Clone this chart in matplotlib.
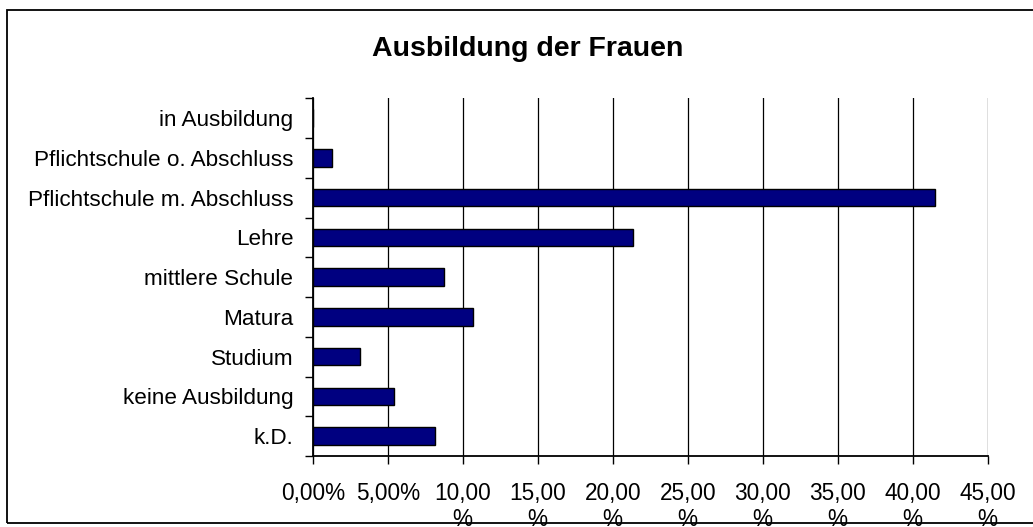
import matplotlib.pyplot as plt
from matplotlib.patches import Rectangle

# data (percent), top to bottom as in the chart
categories = [
    "in Ausbildung",
    "Pflichtschule o. Abschluss",
    "Pflichtschule m. Abschluss",
    "Lehre",
    "mittlere Schule",
    "Matura",
    "Studium",
    "keine Ausbildung",
    "k.D.",
]
values = [0.0, 1.31, 41.47, 21.33, 8.75, 10.69, 3.17, 5.42, 8.15]
tick_values = [0, 5, 10, 15, 20, 25, 30, 35, 40, 45]
tick_labels = ["0,00%", "5,00%", "10,00\n%", "15,00\n%", "20,00\n%", "25,00\n%",
               "30,00\n%", "35,00\n%", "40,00\n%", "45,00\n%"]

plt.rcParams["font.family"] = ["Liberation Sans", "DejaVu Sans"]

W, H = 1033, 527
fig = plt.figure(figsize=(W / 100, H / 100), dpi=100)
ax = fig.add_axes([312.7 / W, 1 - 456 / H, (987.7 - 312.7) / W, (456 - 98.3) / H])

n = len(categories)
ypos = [n - 1 - i for i in range(n)]
ax.barh(ypos, values, height=0.44, color="#000080", edgecolor="black",
        linewidth=1.0, zorder=3)

ax.set_xlim(0, 45)
ax.set_ylim(-0.5, n - 0.5)

# vertical gridlines
ax.set_xticks(tick_values)
ax.set_xticklabels(tick_labels, fontsize=16.3, va="top", linespacing=1.2)
ax.xaxis.grid(True, color="black", linewidth=0.9, zorder=0)
ax.tick_params(axis="x", direction="out", length=5.5, width=1.0, pad=13)

# y ticks at category boundaries, labels at centers
ax.set_yticks([k - 0.5 for k in range(n + 1)])
ax.set_yticklabels([])
ax.set_yticks(ypos, minor=True)
ax.set_yticklabels(categories, minor=True, fontsize=16.2)
ax.tick_params(axis="y", which="major", direction="out", length=5.5, width=1.0)
ax.tick_params(axis="y", which="minor", length=0, pad=14)

for side in ["top", "right"]:
    ax.spines[side].set_visible(False)
for side in ["left", "bottom"]:
    ax.spines[side].set_linewidth(1.3)

fig.text(527.5 / W, 1 - 49 / H, "Ausbildung der Frauen", ha="center",
         va="center", fontsize=20.5, fontweight="bold")

# chart border
fig.patches.append(Rectangle((7 / W, 1 - 523 / H), 1.05, (523 - 10) / H,
                             transform=fig.transFigure, fill=False,
                             edgecolor="black", linewidth=1.3, zorder=10))

fig.savefig("out.png", dpi=100, facecolor="white")
